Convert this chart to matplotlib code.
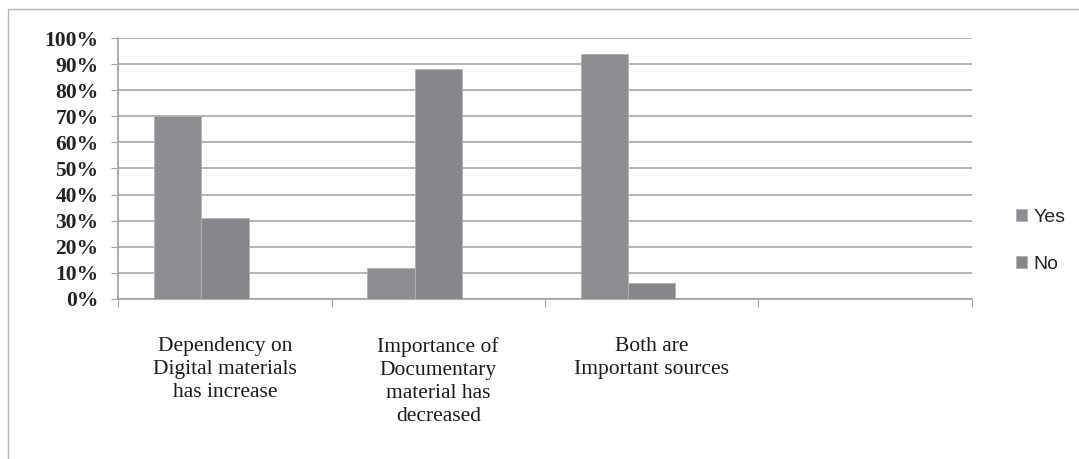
import numpy as np
import matplotlib.pyplot as plt
from matplotlib.patches import Rectangle

categories = ['Dependency on\nDigital materials\nhas increase',
              'Importance of\nDocumentary\nmaterial has\ndecreased',
              'Both are\nImportant sources',
              '']
yes_vals = [70, 12, 94, None]
no_vals = [31, 88, 6, None]

fig = plt.figure(figsize=(10.79, 4.59), dpi=100)
ax = fig.add_axes([0.1094, 0.3486, 0.7914, 0.5686])

# outer chart frame
fig.patches.append(Rectangle((0.0075, -0.1), 1.2, 1.08, transform=fig.transFigure,
                             fill=False, edgecolor='#b5b5b5', linewidth=1))

x = np.arange(len(categories))
w = 1 / 4.5  # three series slots with 150% gap
yes_x = [xi - w for xi, v in zip(x, yes_vals) if v is not None]
no_x = [xi for xi, v in zip(x, no_vals) if v is not None]
ax.bar(yes_x, [v for v in yes_vals if v is not None], width=w, align='center',
       color='#8d8e91', edgecolor='#b0b1b3', linewidth=0.6, label='Yes', zorder=3)
ax.bar(no_x, [v for v in no_vals if v is not None], width=w, align='center',
       color='#86878a', edgecolor='#b0b1b3', linewidth=0.6, label='No', zorder=3)

ax.set_xlim(-0.5, len(categories) - 0.5)
ax.set_ylim(0, 100)
ax.set_yticks(np.arange(0, 101, 10))
ax.set_yticklabels([f'{t}%' for t in range(0, 101, 10)],
                   fontfamily='Liberation Serif', fontweight='bold', fontsize=15.5,
                   color='#222222')
ax.yaxis.grid(True, color='#a8a8a8', linewidth=1.2, zorder=0)

# category boundaries as ticks, labels at centres
ax.set_xticks(np.arange(len(categories) + 1) - 0.5)
ax.set_xticklabels([])
ax.tick_params(axis='x', length=6, color='#a0a0a0', direction='out')
ax.tick_params(axis='y', length=5, color='#a0a0a0', direction='out', pad=9)
for xi, lab in zip(x, categories):
    ax.text(xi, -14.5, lab, ha='center', va='top', fontfamily='Liberation Serif',
            fontsize=15.5, linespacing=1.3, color='#1a1a1a',
            transform=ax.transData)

for side in ['top', 'right']:
    ax.spines[side].set_visible(False)
for side in ['left', 'bottom']:
    ax.spines[side].set_color('#a0a0a0')
    ax.spines[side].set_linewidth(1.2)

fig.legend(loc='center left', bbox_to_anchor=(0.925, 0.475), frameon=False,
           prop={'family': 'Liberation Sans', 'size': 14},
           handlelength=0.6, handleheight=0.6, handletextpad=0.3,
           labelspacing=1.55, labelcolor='#222222')

fig.savefig('out.png', dpi=100)
